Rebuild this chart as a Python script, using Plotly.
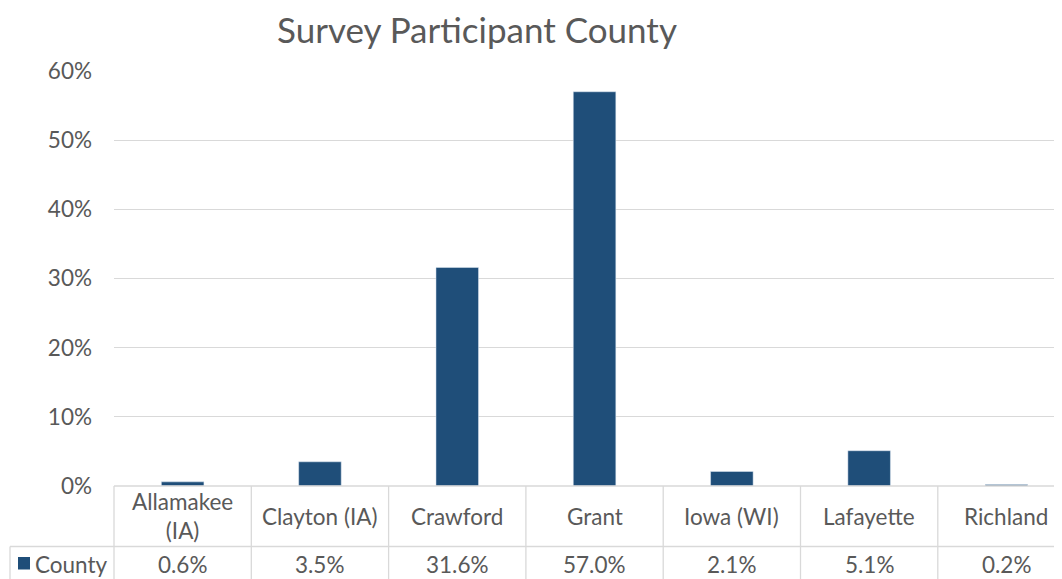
import plotly.graph_objects as go

categories = ["Allamakee<br>(IA)", "Clayton (IA)", "Crawford", "Grant", "Iowa (WI)", "Lafayette", "Richland"]
values = [0.006, 0.035, 0.316, 0.570, 0.021, 0.051, 0.002]
series_name = "County"
title_text = "Survey Participant County"
y_ticks = [0, 0.1, 0.2, 0.3, 0.4, 0.5, 0.6]

OFF = 8  # page body margin
W, H = 1062, 579
# screen-space layout targets
S_LEFT, S_TOP, S_ZERO = 114, 71, 486
L = S_LEFT - OFF
T = S_TOP - OFF
B = H - (S_ZERO - OFF)
R = 0
PW, PH = W - L - R, H - T - B
CAT_W = 137.3  # pixels per category
BAR = "#1f4e79"
GRID = "#d9d9d9"
TXT = "#595959"
FONT = "Lato"
FS = 22.5

def px_x(X):  # screen X -> paper
    return (X - OFF - L) / PW

def px_y(Y):  # screen Y -> paper
    return (H - B - (Y - OFF)) / PH

n = len(categories)
xr = [-0.5, -0.5 + PW / CAT_W]
idx = list(range(n))

fig = go.Figure()
fig.add_trace(go.Bar(x=idx, y=values, marker_color=BAR, width=0.31, name=series_name,
                     showlegend=False))

LW = 1.3
shapes = []
shapes.append(dict(type="line", xref="paper", yref="paper", x0=0, x1=1.2, y0=0, y1=0,
                   line=dict(color=GRID, width=LW)))
shapes.append(dict(type="line", xref="paper", yref="paper", x0=px_x(10), x1=1.2,
                   y0=px_y(546.5), y1=px_y(546.5), line=dict(color=GRID, width=LW)))
shapes.append(dict(type="line", xref="paper", yref="paper", x0=0, x1=0, y0=0, y1=px_y(620),
                   line=dict(color=GRID, width=LW)))
shapes.append(dict(type="line", xref="paper", yref="paper", x0=px_x(10), x1=px_x(10),
                   y0=px_y(546.5), y1=px_y(620), line=dict(color=GRID, width=LW)))
for k in range(n):
    shapes.append(dict(type="line", xref="x", yref="paper", x0=k + 0.5, x1=k + 0.5,
                       y0=0, y1=px_y(620), line=dict(color=GRID, width=LW)))
shapes.append(dict(type="rect", xref="paper", yref="paper", x0=px_x(18), x1=px_x(30),
                   y0=px_y(569.5), y1=px_y(557), fillcolor=BAR, line=dict(width=0)))

annotations = []
for k, (c, v) in enumerate(zip(categories, values)):
    annotations.append(dict(x=k, y=px_y(516), xref="x", yref="paper", text=c,
                            showarrow=False, font=dict(family=FONT, size=FS, color=TXT),
                            xanchor="center", yanchor="middle"))
    annotations.append(dict(x=k, y=px_y(564), xref="x", yref="paper", text=f"{v*100:.1f}%",
                            showarrow=False, font=dict(family=FONT, size=FS, color=TXT),
                            xanchor="center", yanchor="middle"))
annotations.append(dict(x=px_x(33), y=px_y(564), xref="paper", yref="paper", text=series_name,
                        showarrow=False, font=dict(family=FONT, size=FS, color=TXT),
                        xanchor="left", yanchor="middle"))
annotations.append(dict(x=px_x(477), y=px_y(29), xref="paper", yref="paper", text=title_text,
                        showarrow=False, font=dict(family=FONT, size=35, color=TXT),
                        xanchor="center", yanchor="middle"))

fig.update_layout(
    width=W, height=H,
    margin=dict(l=L, r=R, t=T, b=B, pad=0),
    paper_bgcolor="white", plot_bgcolor="white",
    font=dict(family=FONT, color=TXT),
    shapes=shapes, annotations=annotations,
    xaxis=dict(range=xr, showticklabels=False, showgrid=False, zeroline=False,
               showline=False, fixedrange=True),
    yaxis=dict(range=[0, 0.6], tickvals=y_ticks, tickformat=".0%", showgrid=True,
               gridcolor=GRID, gridwidth=LW, zeroline=False, showline=False,
               ticks="", ticklabelstandoff=21,
               tickfont=dict(family=FONT, size=FS, color=TXT)),
    bargap=0.69,
)

fig.write_html("out.html", post_script="document.documentElement.style.overflow='hidden';document.body.style.overflow='hidden';")
